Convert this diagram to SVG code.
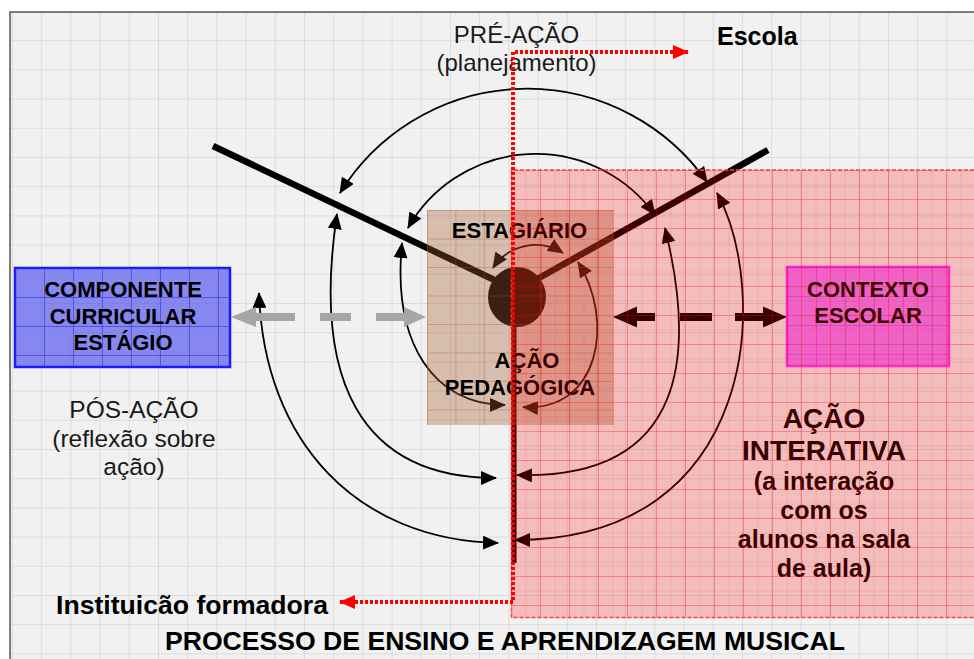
<svg xmlns="http://www.w3.org/2000/svg" width="974" height="659" viewBox="0 0 974 659">
<defs>
<style>
.t{font-family:"Liberation Sans",Arial,sans-serif;fill:#000}
.r{font-weight:normal;fill:#1a1a1a}
.b{font-weight:bold}
.m{text-anchor:middle}
.arc{fill:none;stroke:#000;stroke-width:1.8;marker-start:url(#ah);marker-end:url(#ah)}
.wing{stroke:#000;stroke-width:6.5;stroke-linecap:butt}
.dot{fill:none;stroke:#ff0000;stroke-width:4;stroke-dasharray:3 2}
</style>
<pattern id="gridBg" patternUnits="userSpaceOnUse" x="12" y="11" width="29.2" height="29.2">
<path d="M0,0.5H29.2M0.5,0V29.2" stroke="#dcdcdc" stroke-width="1" fill="none"/>
</pattern>
<pattern id="gridBlue" patternUnits="userSpaceOnUse" x="15" y="268" width="29" height="29">
<path d="M0,0.5H29M0.5,0V29" stroke="#2a2ad8" stroke-opacity="0.55" stroke-width="1" fill="none"/>
</pattern>
<pattern id="gridBrown" patternUnits="userSpaceOnUse" x="427" y="210" width="28.4" height="28.5">
<path d="M0,0.5H28.4M0.5,0V28.5" stroke="#a85028" stroke-opacity="0.35" stroke-width="1" fill="none"/>
</pattern>
<pattern id="gridMag" patternUnits="userSpaceOnUse" x="787" y="267" width="29" height="29">
<path d="M0,0.5H29M0.5,0V29" stroke="#c000c0" stroke-opacity="0.3" stroke-width="1" fill="none"/>
</pattern>
<pattern id="gridPink" patternUnits="userSpaceOnUse" x="511" y="170" width="29" height="29">
<path d="M0,0.5H29M0.5,0V29" stroke="#ff0000" stroke-opacity="0.3" stroke-width="1" fill="none"/>
<path d="M0,15H29M15,0V29" stroke="#ff0000" stroke-opacity="0.1" stroke-width="1" fill="none"/>
</pattern>
<marker id="ah" viewBox="0 0 16 14" refX="15" refY="7" markerWidth="16" markerHeight="14" markerUnits="userSpaceOnUse" orient="auto-start-reverse">
<path d="M0,0L16,7L0,14z" fill="#000"/>
</marker>
<marker id="ahRed" viewBox="0 0 16 14" refX="15" refY="7" markerWidth="16" markerHeight="14" markerUnits="userSpaceOnUse" orient="auto-start-reverse">
<path d="M0,0L16,7L0,14z" fill="#ff0000"/>
</marker>
</defs>

<!-- page and frame -->
<rect x="0" y="0" width="974" height="659" fill="#ffffff"/>
<rect x="10" y="12" width="970" height="650" fill="#f1f1f1"/>
<rect x="10" y="12" width="970" height="650" fill="url(#gridBg)"/>
<path d="M10,659V12H974" fill="none" stroke="#555" stroke-width="1.5"/>

<!-- wings and centre -->
<g id="divisores">
<line class="wing" x1="213" y1="146" x2="505" y2="285"/>
<line class="wing" x1="768" y1="150" x2="530" y2="283"/>
<line x1="514" y1="310" x2="514" y2="563" stroke="#000" stroke-width="5"/>
</g>
<g id="centro">
<ellipse cx="517" cy="297" rx="29" ry="30" fill="#000"/>
</g>

<!-- connectors -->
<g id="connectors">
<path class="arc" d="M340,193A220,220 0 0 1 707,182"/>
<path class="arc" d="M408,228A147,147 0 0 1 655,215"/>
<path class="arc" d="M493,268A51,51 0 0 1 563,253"/>
<path class="arc" d="M259,293C264,443 358,540 498,543"/>
<path class="arc" d="M337,214C312,380 360,478 496,478"/>
<path class="arc" d="M402,243C392,345 435,405 505,405"/>
<path class="arc" d="M578,262C615,320 600,412 523,407"/>
<path class="arc" d="M665,228C695,350 690,480 517,475"/>
<path class="arc" d="M717,193C770,290 760,540 515,540"/>
<g id="seta-componente" fill="#a6a6a6">
<polygon points="231,317 256,307 256,327"/>
<rect x="255" y="313" width="40" height="8"/>
<rect x="320" y="313" width="31" height="8"/>
<rect x="376" y="313" width="29" height="8"/>
<polygon points="426,317 404,307 404,327"/>
</g>
<g id="seta-contexto" fill="#000">
<polygon points="613,317 637,306.5 637,327.5"/>
<rect x="636" y="313" width="19" height="8"/>
<rect x="680" y="313" width="32" height="8"/>
<rect x="735" y="313" width="29" height="8"/>
<polygon points="787,317 763,306.5 763,327.5"/>
</g>
</g>

<!-- nodes -->
<g id="estagiario">
<rect x="427" y="210" width="187" height="215" fill="#a55d32" fill-opacity="0.35"/>
<rect x="427" y="210" width="187" height="215" fill="url(#gridBrown)"/>
<text class="t b m" x="519.5" y="238" font-size="22">ESTAGIÁRIO</text>
<text class="t b m" x="527" y="368" font-size="22">AÇÃO</text>
<text class="t b m" x="520" y="395" font-size="22">PEDAGÓGICA</text>
</g>
<g id="componente">
<rect x="15" y="268" width="215" height="99" fill="#5050f0" fill-opacity="0.66" stroke="#1a1aff" stroke-width="2.5"/>
<rect x="15" y="268" width="215" height="99" fill="url(#gridBlue)"/>
<text class="t b m" x="123" y="297" font-size="22">COMPONENTE</text>
<text class="t b m" x="123" y="323.5" font-size="22">CURRICULAR</text>
<text class="t b m" x="123" y="350" font-size="22">ESTÁGIO</text>
</g>
<g id="contexto">
<rect x="787" y="267" width="162" height="99" fill="#e87dfa" stroke="#ff33ff" stroke-width="2.5"/>
<rect x="787" y="267" width="162" height="99" fill="url(#gridMag)"/>
<text class="t b m" x="868" y="297" font-size="22">CONTEXTO</text>
<text class="t b m" x="868" y="323" font-size="22">ESCOLAR</text>
</g>

<!-- labels -->
<g id="pre-acao">
<text class="t r m" x="516.5" y="43" font-size="24">PRÉ-AÇÃO</text>
<text class="t r m" x="516.5" y="71" font-size="24">(planejamento)</text>
</g>
<g id="pos-acao">
<text class="t r m" x="134" y="418" font-size="24.5">PÓS-AÇÃO</text>
<text class="t r m" x="134" y="446.5" font-size="24.5">(reflexão sobre</text>
<text class="t r m" x="134" y="474.5" font-size="24.5">ação)</text>
</g>
<g id="acao-interativa">
<text class="t b m" x="824" y="428" font-size="28">AÇÃO</text>
<text class="t b m" x="824" y="459.5" font-size="28">INTERATIVA</text>
<text class="t b m" x="824" y="490" font-size="25">(a interação</text>
<text class="t b m" x="824" y="519" font-size="25">com os</text>
<text class="t b m" x="824" y="548" font-size="25">alunos na sala</text>
<text class="t b m" x="824" y="577" font-size="25">de aula)</text>
</g>
<g id="escola">
<text class="t b" x="717" y="45" font-size="25">Escola</text>
</g>
<g id="instituicao">
<text class="t b" x="56" y="614" font-size="26" textLength="272" lengthAdjust="spacingAndGlyphs">Instituicão formadora</text>
</g>
<g id="titulo">
<text class="t b" x="165" y="650" font-size="25" textLength="680" lengthAdjust="spacingAndGlyphs">PROCESSO DE ENSINO E APRENDIZAGEM MUSICAL</text>
</g>

<!-- school region overlay -->
<g id="regiao-escola">
<rect x="511" y="170" width="470" height="448" fill="#ff0000" fill-opacity="0.215"/>
<rect x="511" y="170" width="470" height="448" fill="url(#gridPink)"/>
<path d="M980,170H511.5V617.5H980" fill="none" stroke="#ff4040" stroke-width="1.5" stroke-dasharray="4 2"/>
</g>

<!-- boundary markers -->
<g id="fronteira">
<path class="dot" d="M340,602H513V52H688" marker-start="url(#ahRed)" marker-end="url(#ahRed)"/>
</g>
</svg>
